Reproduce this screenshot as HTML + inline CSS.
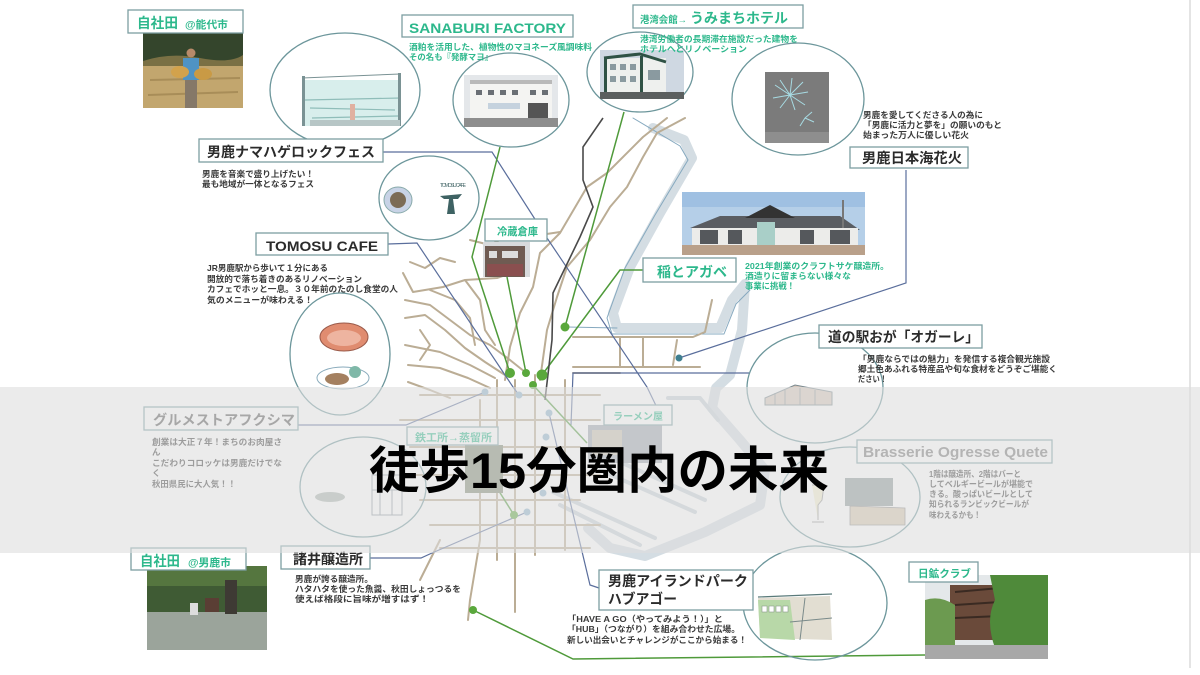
<!DOCTYPE html>
<html><head><meta charset="utf-8">
<style>
html,body{margin:0;padding:0;background:#fff;}
svg{display:block}
text{font-family:"Liberation Sans","Noto Sans CJK JP",sans-serif;}
.lb{font-weight:700;fill:#2b2b2b;font-size:14px}
.tl{font-weight:700;fill:#2db88c}
.ds{font-weight:700;fill:#3a3a3a;font-size:8.5px}
.dt{font-weight:700;fill:#2db88c;font-size:8.5px}
.box{fill:#fff;stroke:#7c9ea2;stroke-width:1.3}
.cir{fill:none;stroke:#6c969b;stroke-width:1.3}
.rd{fill:none;stroke:#bbad95;stroke-width:2;stroke-linejoin:round;stroke-linecap:round}
.cn{fill:none;stroke:#5a6e9c;stroke-width:1.2}
.gn{fill:none;stroke:#4f9a3a;stroke-width:1.5}
</style></head><body>
<svg width="1200" height="675" viewBox="0 0 1200 675" xmlns="http://www.w3.org/2000/svg">
<rect width="1200" height="675" fill="#fff"/>
<line x1="1190" y1="0" x2="1190" y2="668" stroke="#dcdcdc" stroke-width="1.5"/>

<!-- harbor -->
<g fill="none" stroke-linejoin="round" stroke-linecap="round">
<path d="M653,128 L684,140 L692,158 L660,213 L630,267 L613,313 L617,328 L720,328 L732,300 L745,284 L742,330 L730,375 L716,388 L712,408 L740,440 L765,470 L760,505 L705,532 L645,556 L610,548 L588,528" stroke="#d4dde3" stroke-width="10"/>
<path d="M633,118 L680,146 L688,160 L655,215 L625,268 L607,318 L612,334 L724,334 L736,304 L750,290" stroke="#86a9bf" stroke-width="1"/>
<path d="M553,492 L655,538 M560,505 L640,545 M600,470 L695,512 M620,462 L705,500 M668,398 L700,398 L718,420" stroke="#c9d3da" stroke-width="4"/>
<path d="M567,327 L617,328" stroke="#86a9bf" stroke-width="1"/>
</g>

<!-- roads -->
<g class="rd">
<polyline points="667,118 643,137 607,173 587,187 560,233 540,253 533,287 520,313 510,347 505,380"/>
<polyline points="685,118 657,133 643,157 627,187 610,207 590,240 567,267 557,297 547,330 540,380"/>
<polyline points="403,273 413,292 443,287 465,280 497,278 520,270"/>
<polyline points="405,300 430,305 450,320 470,335 490,345 510,360 525,372"/>
<polyline points="405,318 425,315 445,330 465,348 485,362 505,375"/>
<polyline points="405,345 440,352 470,365 495,378"/>
<polyline points="408,365 440,368 468,378 490,388"/>
<polyline points="430,290 455,300 470,318 475,345"/>
<polyline points="465,280 480,300 485,330 495,345"/>
<polyline points="470,240 490,245 520,230 540,235 560,232"/>
<polyline points="408,382 430,390 450,398"/>
<polyline points="420,330 430,345 420,360"/>
<polyline points="410,262 425,268 440,258 455,262"/>
<polyline points="573,337 693,337 705,332 712,300"/>
<polyline points="573,367 700,367"/>
<polyline points="620,337 620,367"/>
<polyline points="643,337 643,367"/>
<polyline points="677,340 673,365"/>
<polyline points="497,380 497,560"/>
<polyline points="515,380 515,612"/>
<polyline points="535,375 535,555"/>
<polyline points="565,380 565,550"/>
<polyline points="480,400 480,540 470,600 468,620"/>
<polyline points="420,395 600,395"/>
<polyline points="400,420 600,420"/>
<polyline points="410,447 580,447"/>
<polyline points="400,475 600,475"/>
<polyline points="420,500 580,500"/>
<polyline points="430,525 600,525"/>
<polyline points="440,548 590,548"/>
<polyline points="440,540 420,580"/>
<polyline points="573,373 620,373"/>
</g>

<!-- connectors -->
<g class="cn">
<polyline points="383,152 492,152 547,238 647,387 662,418"/>
<polyline points="388,244 417,243 513,387 519,395"/>
<polyline points="906,170 906,283 679,358"/>
<polyline points="750,373 573,373 571,425"/>
<polyline points="298,425 406,425 485,392"/>
<polyline points="370,558 421,558 432,553 527,512"/>
<polyline points="549,413 590,585 599,588"/>
</g>
<g class="gn">
<polyline points="500,147 472,257 510,373"/>
<polyline points="507,277 526,373"/>
<polyline points="624,112 565,327"/>
<polyline points="643,270 620,270 542,375"/>
<polyline points="533,385 587,443"/>
<polyline points="497,488 514,515"/>
<polyline points="473,610 573,659 925,655"/>
</g>
<polyline points="603,118 583,147 583,180 593,207 580,237 553,293 552,340 545,400" fill="none" stroke="#4a4a4a" stroke-width="1.6"/>
<g fill="#5aa83c">
<circle cx="510" cy="373" r="5"/><circle cx="526" cy="373" r="4"/><circle cx="542" cy="375" r="5.5"/>
<circle cx="565" cy="327" r="4.5"/><circle cx="533" cy="385" r="4"/><circle cx="514" cy="515" r="4"/>
<circle cx="473" cy="610" r="4"/>
</g>
<g fill="#8fb3cc">
<circle cx="485" cy="392" r="3.5"/><circle cx="519" cy="395" r="3.5"/><circle cx="549" cy="413" r="3.5"/>
<circle cx="546" cy="437" r="3.5"/><circle cx="543" cy="493" r="3.5"/><circle cx="527" cy="512" r="3.5"/>
</g>
<circle cx="679" cy="358" r="3.5" fill="#3f7f8f"/>

<!-- circles -->
<g class="cir">
<ellipse cx="345" cy="90" rx="75" ry="57"/>
<ellipse cx="511" cy="100" rx="58" ry="47"/>
<ellipse cx="640" cy="72" rx="53" ry="40"/>
<ellipse cx="798" cy="99" rx="66" ry="56"/>
<ellipse cx="429" cy="198" rx="50" ry="42"/>
<ellipse cx="340" cy="354" rx="50" ry="61"/>
<ellipse cx="363" cy="487" rx="63" ry="50"/>
<ellipse cx="815" cy="388" rx="68" ry="55"/>
<ellipse cx="850" cy="497" rx="70" ry="50"/>
<ellipse cx="815" cy="603" rx="72" ry="57"/>
</g>

<!-- photos / illustrations -->
<rect x="143" y="33" width="100" height="75" fill="#c2a66e"/>
<rect x="143" y="33" width="100" height="28" fill="#34452c"/>
<path d="M143,61 Q170,52 200,58 T243,55 L243,66 L143,66Z" fill="#7a7044"/>
<path d="M150,80 L240,78 M148,95 L238,92" stroke="#a88d58" stroke-width="2"/>
<rect x="183" y="58" width="16" height="22" fill="#4f93c4"/>
<circle cx="191" cy="53" r="4.5" fill="#b88a6a"/>
<rect x="185" y="80" width="12" height="28" fill="#857868"/>
<ellipse cx="180" cy="72" rx="9" ry="6" fill="#d2a24c"/>
<ellipse cx="203" cy="74" rx="9" ry="6" fill="#c99a45"/>

<rect x="305" y="80" width="96" height="46" fill="#d8eeec"/>
<path d="M305,100 L401,98 M310,108 L395,110 M312,118 L398,116" stroke="#8fbdb9" stroke-width="1.2"/>
<rect x="302" y="76" width="3" height="50" fill="#7a9294"/><rect x="398" y="73" width="3" height="53" fill="#7a9294"/>
<path d="M302,78 L400,74" stroke="#7a9294" stroke-width="1"/>
<rect x="350" y="104" width="5" height="20" fill="#e0b0a0"/>
<rect x="310" y="120" width="90" height="6" fill="#b7c6c6"/>

<rect x="464" y="75" width="94" height="52" fill="#e4e7ea"/>
<rect x="470" y="82" width="82" height="36" fill="#f4f4f2"/>
<rect x="470" y="80" width="82" height="4" fill="#b9b9b9"/>
<g fill="#6a6f75"><rect x="476" y="90" width="6" height="5"/><rect x="488" y="90" width="6" height="5"/><rect x="500" y="90" width="6" height="5"/><rect x="512" y="90" width="6" height="5"/><rect x="530" y="90" width="6" height="5"/><rect x="542" y="90" width="6" height="5"/></g>
<rect x="488" y="103" width="32" height="6" fill="#c5d2de"/>
<rect x="528" y="103" width="20" height="15" fill="#555"/>
<rect x="464" y="118" width="94" height="9" fill="#8e8e8e"/>

<rect x="600" y="50" width="84" height="49" fill="#cfd8e2"/>
<rect x="604" y="58" width="62" height="36" fill="#eef0ee"/>
<path d="M604,58 L640,54 L666,62" stroke="#2f5245" stroke-width="3" fill="none"/>
<rect x="604" y="58" width="3" height="36" fill="#2f5245"/><rect x="640" y="56" width="3" height="38" fill="#2f5245"/>
<g fill="#8a9aa0"><rect x="610" y="64" width="6" height="6"/><rect x="620" y="64" width="6" height="6"/><rect x="630" y="64" width="6" height="6"/><rect x="610" y="76" width="6" height="6"/><rect x="620" y="76" width="6" height="6"/><rect x="630" y="76" width="6" height="6"/><rect x="648" y="70" width="12" height="10"/></g>
<rect x="600" y="92" width="84" height="7" fill="#5b5f5f"/>

<rect x="765" y="72" width="64" height="71" fill="#7b7b7b"/>
<rect x="765" y="132" width="64" height="11" fill="#8e8e8e"/>
<g stroke="#a7dbe3" stroke-width="1"><path d="M790,95 L775,85 M790,95 L780,80 M790,95 L792,78 M790,95 L803,82 M790,95 L808,92 M790,95 L805,105 M790,95 L795,110 M790,95 L780,108 M790,95 L773,98"/><path d="M805,118 L812,112 M805,118 L814,122 M805,118 L800,126"/></g>

<ellipse cx="398" cy="200" rx="14" ry="13" fill="#c8d3e6" stroke="#8aa" stroke-width="1"/>
<ellipse cx="398" cy="200" rx="8" ry="8" fill="#7b6b55"/>
<path d="M440,196 L462,194 L458,199 L453,199 L455,214 L447,214 L449,199 L444,199Z" fill="#3e6263"/>
<text x="440" y="187" font-size="5" fill="#3e6263" textLength="26">TOMOSU CAFE</text>

<ellipse cx="344" cy="337" rx="24" ry="14" fill="#e08c70" stroke="#9a5a4a" stroke-width="1"/>
<ellipse cx="344" cy="338" rx="17" ry="8" fill="#eeb4a0"/>
<ellipse cx="343" cy="378" rx="26" ry="11" fill="#fff" stroke="#8ab" stroke-width="1"/>
<ellipse cx="337" cy="379" rx="12" ry="6" fill="#a48060"/>
<circle cx="355" cy="372" r="6" fill="#7fb8a8"/>

<rect x="483" y="242" width="47" height="35" fill="#d8dadc"/>
<rect x="485" y="246" width="40" height="31" fill="#6f5b52"/>
<rect x="489" y="251" width="8" height="7" fill="#ddd"/><rect x="502" y="251" width="16" height="7" fill="#ddd"/>
<rect x="487" y="264" width="36" height="12" fill="#8a4f4f"/>

<rect x="682" y="192" width="183" height="63" fill="#b5cfe8"/>
<rect x="682" y="192" width="183" height="15" fill="#9fc0e2"/>
<path d="M690,228 L720,216 L840,216 L860,230 Z" fill="#5a5d62"/>
<path d="M745,218 L770,205 L795,218 Z" fill="#333"/>
<rect x="692" y="228" width="166" height="18" fill="#ececea"/>
<g fill="#55585c"><rect x="700" y="230" width="18" height="14"/><rect x="728" y="230" width="14" height="14"/><rect x="800" y="230" width="14" height="14"/><rect x="830" y="230" width="20" height="14"/></g>
<rect x="757" y="222" width="18" height="24" fill="#a9cfc8"/>
<rect x="682" y="245" width="183" height="10" fill="#b9a08a"/>
<rect x="842" y="200" width="2" height="28" fill="#777"/>

<path d="M765,398 L795,385 L832,392 L832,405 L765,405Z" fill="#d7c7bc" stroke="#7a8a90" stroke-width="1"/>
<path d="M775,393 L775,405 M785,390 L785,405 M800,388 L800,405 M815,390 L815,405" stroke="#7a8a90" stroke-width="0.8"/>

<path d="M758,598 L830,596 L832,640 L760,638Z" fill="#e2ded2"/>
<path d="M758,600 L790,600 L795,640 L760,638Z" fill="#b8d8a8"/>
<g fill="#fff" stroke="#8a9a8a" stroke-width="0.6"><rect x="762" y="606" width="5" height="6"/><rect x="769" y="606" width="5" height="6"/><rect x="776" y="606" width="5" height="6"/><rect x="783" y="606" width="5" height="6"/></g>
<path d="M805,598 L800,640 M790,622 L832,618" stroke="#7a8a8a" stroke-width="1"/>
<path d="M758,597 L832,594" stroke="#5a7a7a" stroke-width="1.2"/>

<rect x="147" y="566" width="120" height="84" fill="#3f5b34"/>
<rect x="147" y="566" width="120" height="20" fill="#55763f"/>
<rect x="147" y="612" width="120" height="38" fill="#9ba49b"/>
<rect x="225" y="580" width="12" height="34" fill="#3e3a34"/>
<rect x="205" y="598" width="14" height="14" fill="#5a3e34"/>
<rect x="190" y="603" width="8" height="12" fill="#ddd"/>

<rect x="925" y="575" width="123" height="84" fill="#e4e8ea"/>
<rect x="950" y="585" width="50" height="55" fill="#6a4a3a"/>
<path d="M955,592 L1000,588 M955,605 L1000,602 M955,618 L1000,616" stroke="#3a2a22" stroke-width="2"/>
<path d="M990,575 L1048,575 L1048,648 L995,648 Q985,620 995,600Z" fill="#4f8a3a"/>
<path d="M925,600 Q940,595 955,605 L955,645 L925,645Z" fill="#6c9a50"/>
<rect x="925" y="645" width="123" height="14" fill="#a8a8a8"/>

<ellipse cx="330" cy="497" rx="15" ry="5" fill="#aab4b0"/>
<rect x="372" y="475" width="30" height="40" fill="none" stroke="#8a9aa0" stroke-width="1"/>
<path d="M372,490 L402,490 M380,490 L380,515 M392,490 L392,515" stroke="#8a9aa0" stroke-width="1"/>

<rect x="845" y="478" width="48" height="28" fill="#8c9a9a"/>
<path d="M850,506 L905,508 L905,525 L850,525Z" fill="#d8c8b0" stroke="#888" stroke-width="0.8"/>
<path d="M812,485 L824,485 L822,500 L818,505 L818,520 M812,522 L824,522" fill="#f4f0d0" stroke="#999" stroke-width="1"/>

<rect x="588" y="425" width="74" height="38" fill="#9fa6ae"/>
<rect x="592" y="430" width="30" height="25" fill="#c8c0b0"/>
<rect x="465" y="445" width="38" height="48" fill="#7d8870"/>

<!-- label boxes -->
<g lengthAdjust="spacingAndGlyphs">
<rect class="box" x="128" y="10" width="115" height="23"/>
<text class="tl" x="137" y="28" font-size="14" textLength="41" lengthAdjust="spacingAndGlyphs">自社田</text>
<text class="tl" x="185" y="28" font-size="10.5" textLength="43" lengthAdjust="spacingAndGlyphs">@能代市</text>

<rect class="box" x="402" y="15" width="171" height="22"/>
<text class="tl" x="409" y="33" font-size="14" textLength="157" lengthAdjust="spacingAndGlyphs">SANABURI FACTORY</text>
<text class="dt" x="409" y="50" textLength="183" lengthAdjust="spacingAndGlyphs">酒粕を活用した、植物性のマヨネーズ風調味料</text>
<text class="dt" x="409" y="60" textLength="84" lengthAdjust="spacingAndGlyphs">その名も『発酵マヨ』</text>

<rect class="box" x="633" y="5" width="170" height="23"/>
<text class="tl" x="640" y="23" font-size="9.5" textLength="47" lengthAdjust="spacingAndGlyphs">港湾会館→</text>
<text class="tl" x="690" y="23" font-size="14" textLength="98" lengthAdjust="spacingAndGlyphs">うみまちホテル</text>
<text class="dt" x="640" y="42" textLength="158" lengthAdjust="spacingAndGlyphs">港湾労働者の長期滞在施設だった建物を</text>
<text class="dt" x="640" y="52" textLength="107" lengthAdjust="spacingAndGlyphs">ホテルへとリノベーション</text>

<text class="ds" x="863" y="118" textLength="120" lengthAdjust="spacingAndGlyphs">男鹿を愛してくださる人の為に</text>
<text class="ds" x="863" y="128" textLength="139" lengthAdjust="spacingAndGlyphs">「男鹿に活力と夢を」の願いのもと</text>
<text class="ds" x="863" y="138" textLength="106" lengthAdjust="spacingAndGlyphs">始まった万人に優しい花火</text>
<rect class="box" x="850" y="147" width="118" height="21"/>
<text class="lb" x="862" y="163" textLength="100" lengthAdjust="spacingAndGlyphs">男鹿日本海花火</text>

<rect class="box" x="199" y="139" width="184" height="23"/>
<text class="lb" x="207" y="157" textLength="168" lengthAdjust="spacingAndGlyphs">男鹿ナマハゲロックフェス</text>
<text class="ds" x="202" y="177" textLength="112" lengthAdjust="spacingAndGlyphs">男鹿を音楽で盛り上げたい！</text>
<text class="ds" x="202" y="187" textLength="112" lengthAdjust="spacingAndGlyphs">最も地域が一体となるフェス</text>

<rect class="box" x="256" y="233" width="132" height="22"/>
<text class="lb" x="266" y="251" font-size="15" textLength="112" lengthAdjust="spacingAndGlyphs">TOMOSU CAFE</text>
<text class="ds" x="207" y="271" textLength="121" lengthAdjust="spacingAndGlyphs">JR男鹿駅から歩いて１分にある</text>
<text class="ds" x="207" y="282" textLength="155" lengthAdjust="spacingAndGlyphs">開放的で落ち着きのあるリノベーション</text>
<text class="ds" x="207" y="292" textLength="191" lengthAdjust="spacingAndGlyphs">カフェでホッと一息。３０年前のたのし食堂の人</text>
<text class="ds" x="207" y="303" textLength="106" lengthAdjust="spacingAndGlyphs">気のメニューが味わえる！</text>

<rect class="box" x="485" y="219" width="62" height="22"/>
<text class="tl" x="497" y="235" font-size="10.5" textLength="41" lengthAdjust="spacingAndGlyphs">冷蔵倉庫</text>

<rect class="box" x="643" y="258" width="93" height="24"/>
<text class="tl" x="657" y="277" font-size="14" textLength="70" lengthAdjust="spacingAndGlyphs">稲とアガベ</text>
<text class="dt" x="745" y="269" textLength="144" lengthAdjust="spacingAndGlyphs">2021年創業のクラフトサケ醸造所。</text>
<text class="dt" x="745" y="279" textLength="106" lengthAdjust="spacingAndGlyphs">酒造りに留まらない様々な</text>
<text class="dt" x="745" y="289" textLength="50" lengthAdjust="spacingAndGlyphs">事業に挑戦！</text>

<rect class="box" x="819" y="325" width="163" height="23"/>
<text class="lb" x="828" y="342" textLength="151" lengthAdjust="spacingAndGlyphs">道の駅おが「オガーレ」</text>
<text class="ds" x="858" y="362" textLength="192" lengthAdjust="spacingAndGlyphs">「男鹿ならではの魅力」を発信する複合観光施設</text>
<text class="ds" x="858" y="372" textLength="199" lengthAdjust="spacingAndGlyphs">郷土色あふれる特産品や旬な食材をどうぞご堪能く</text>
<text class="ds" x="858" y="382" textLength="29" lengthAdjust="spacingAndGlyphs">ださい！</text>

<rect class="box" x="857" y="440" width="195" height="23"/>
<text x="863" y="457" font-size="15" font-weight="700" fill="#777" textLength="185" lengthAdjust="spacingAndGlyphs">Brasserie Ogresse Quete</text>
<text class="ds" x="929" y="477" textLength="92" lengthAdjust="spacingAndGlyphs">1階は醸造所、2階はバーと</text>
<text class="ds" x="929" y="487" textLength="104" lengthAdjust="spacingAndGlyphs">してベルギービールが堪能で</text>
<text class="ds" x="929" y="497" textLength="104" lengthAdjust="spacingAndGlyphs">きる。酸っぱいビールとして</text>
<text class="ds" x="929" y="507" textLength="100" lengthAdjust="spacingAndGlyphs">知られるランビックビールが</text>
<text class="ds" x="929" y="518" textLength="52" lengthAdjust="spacingAndGlyphs">味わえるかも！</text>

<rect class="box" x="144" y="407" width="154" height="23"/>
<text x="153" y="425" font-size="14" font-weight="700" fill="#555" textLength="142" lengthAdjust="spacingAndGlyphs">グルメストアフクシマ</text>
<text class="ds" x="152" y="445" textLength="130" lengthAdjust="spacingAndGlyphs">創業は大正７年！まちのお肉屋さ</text>
<text class="ds" x="152" y="455">ん</text>
<text class="ds" x="152" y="466" textLength="130" lengthAdjust="spacingAndGlyphs">こだわりコロッケは男鹿だけでな</text>
<text class="ds" x="152" y="476">く</text>
<text class="ds" x="152" y="487" textLength="84" lengthAdjust="spacingAndGlyphs">秋田県民に大人気！！</text>

<rect class="box" x="407" y="427" width="91" height="18"/>
<text class="tl" x="415" y="441" font-size="10.5" textLength="77" lengthAdjust="spacingAndGlyphs">鉄工所→蒸留所</text>
<rect class="box" x="604" y="405" width="68" height="20"/>
<text class="tl" x="613" y="420" font-size="10" textLength="50" lengthAdjust="spacingAndGlyphs">ラーメン屋</text>

<rect class="box" x="131" y="548" width="115" height="22"/>
<text class="tl" x="140" y="566" font-size="14" textLength="40" lengthAdjust="spacingAndGlyphs">自社田</text>
<text class="tl" x="188" y="566" font-size="10.5" textLength="43" lengthAdjust="spacingAndGlyphs">@男鹿市</text>

<rect class="box" x="281" y="546" width="89" height="23"/>
<text class="lb" x="293" y="564" textLength="70" lengthAdjust="spacingAndGlyphs">諸井醸造所</text>
<text class="ds" x="295" y="582" textLength="78" lengthAdjust="spacingAndGlyphs">男鹿が誇る醸造所。</text>
<text class="ds" x="295" y="592" textLength="166" lengthAdjust="spacingAndGlyphs">ハタハタを使った魚醤、秋田しょっつるを</text>
<text class="ds" x="295" y="602" textLength="134" lengthAdjust="spacingAndGlyphs">使えば格段に旨味が増すはず！</text>

<rect class="box" x="599" y="570" width="154" height="40"/>
<text class="lb" x="608" y="586" textLength="140" lengthAdjust="spacingAndGlyphs">男鹿アイランドパーク</text>
<text class="lb" x="608" y="604" textLength="69" lengthAdjust="spacingAndGlyphs">ハブアゴー</text>
<text class="ds" x="567" y="622" textLength="156" lengthAdjust="spacingAndGlyphs">「HAVE A GO（やってみよう！）」と</text>
<text class="ds" x="567" y="632" textLength="173" lengthAdjust="spacingAndGlyphs">「HUB」（つながり）を組み合わせた広場。</text>
<text class="ds" x="567" y="643" textLength="180" lengthAdjust="spacingAndGlyphs">新しい出会いとチャレンジがここから始まる！</text>

<rect class="box" x="909" y="562" width="69" height="20"/>
<text class="tl" x="918" y="577" font-size="10.5" textLength="53" lengthAdjust="spacingAndGlyphs">日鉱クラブ</text>
</g>

<!-- band overlay -->
<rect x="0" y="387" width="1200" height="166" fill="#dedede" opacity="0.6"/>

<!-- title -->
<text x="369" y="488" font-size="50" font-weight="700" fill="#000" textLength="460" lengthAdjust="spacingAndGlyphs">徒歩15分圏内の未来</text>
</svg>
</body></html>
